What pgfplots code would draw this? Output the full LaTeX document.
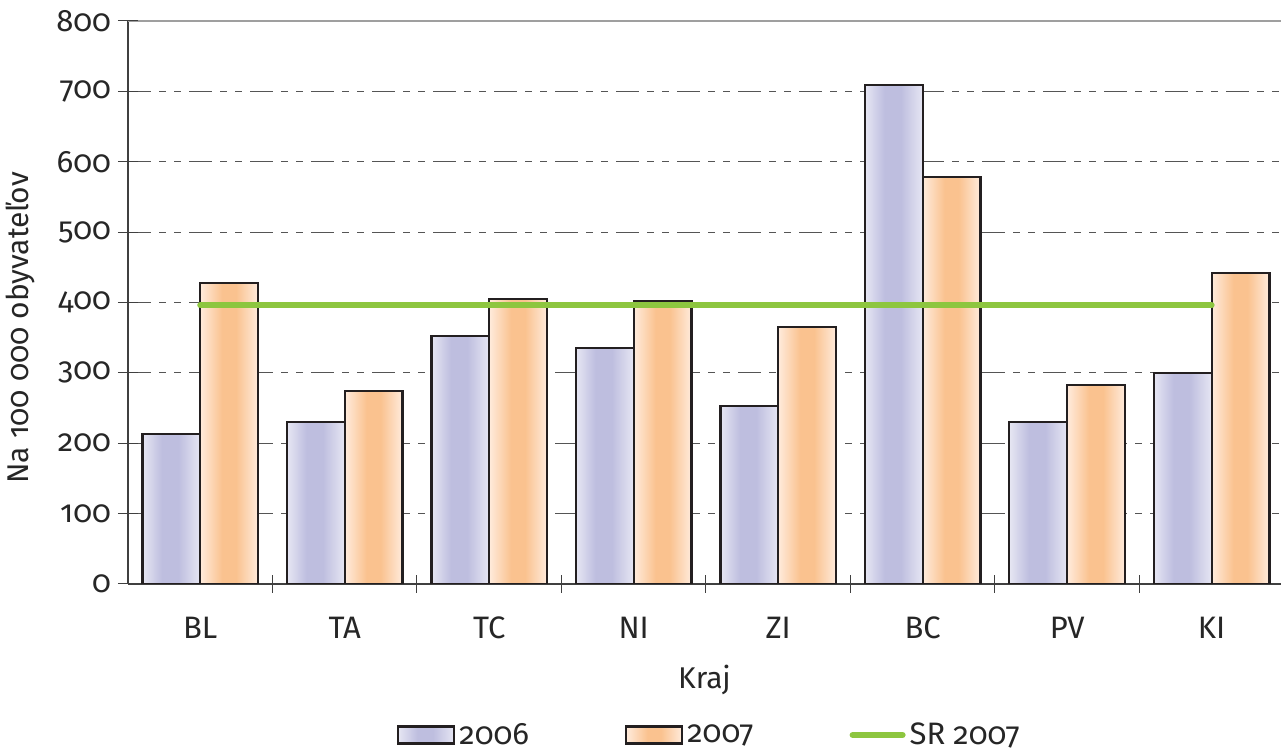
\documentclass[border=0pt]{standalone}
\usepackage{pgfplots}
\pgfplotsset{compat=1.18}
\usepackage{fontspec}
\setmainfont{Fira Sans}[Numbers=OldStyle]
\definecolor{bL}{HTML}{E6E6F3}
\definecolor{bD}{HTML}{BEBEDF}
\definecolor{oL}{HTML}{FFEBDC}
\definecolor{oD}{HTML}{FAC28F}
\definecolor{sr}{HTML}{8DC63F}
\definecolor{gridc}{HTML}{555555}
\definecolor{axc}{HTML}{404040}
\definecolor{barc}{HTML}{231F20}
\pgfdeclarehorizontalshading{sh06}{100bp}{color(0bp)=(bL); color(25bp)=(bL); color(42bp)=(bD); color(56bp)=(bD); color(75bp)=(bL); color(100bp)=(bL)}
\pgfdeclarehorizontalshading{sh07}{100bp}{color(0bp)=(oL); color(25bp)=(oL); color(44bp)=(oD); color(56bp)=(oD); color(75bp)=(oL); color(100bp)=(oL)}
\pgfplotsset{
  barlegend/.style={legend image code/.code={\draw[##1] (0pt,-4.25pt) rectangle (28pt,4.25pt);}},
  linelegend/.style={legend image code/.code={\draw[##1] (1.5pt,0pt) -- (26.5pt,0pt);}},
  b06/.style={ybar, bar width=0.4, bar shift=-0.2, draw=barc, line width=1.1pt, shading=sh06, barlegend},
  b07/.style={ybar, bar width=0.4, bar shift=0.2, draw=barc, line width=1.1pt, shading=sh07, barlegend},
}
\begin{document}
\begin{tikzpicture}
\begin{axis}[
  name=ax,
  scale only axis, width=576.5pt, height=281.5pt,
  xmin=-0.5, xmax=7.48, ymin=0, ymax=800,
  axis x line*=bottom, axis y line*=left,
  axis line style={draw=axc, line width=0.9pt, -},
  xtick={0,...,7}, xticklabels={BL,TA,TC,NI,ZI,BC,PV,KI},
  minor xtick={0.5,1.5,...,6.5},
  major x tick style={draw=none},
  minor x tick style={draw=axc, line width=0.5pt},
  minor tick length=9pt,
  ytick={0,100,...,700},
  extra y ticks={800},
  extra y tick style={grid=major, grid style={solid, draw=gray!75, line width=1pt}},
  major tick length=10pt,
  tick align=center,
  y tick style={draw=axc, line width=0.5pt},
  ymajorgrids,
  grid style={draw=gridc, line width=0.6pt, dash pattern=on 11.5pt off 4pt on 3.5pt off 4pt on 3.5pt off 4pt},
  /pgf/number format/assume math mode=true,
  tick label style={font=\fontsize{15.5}{18}\selectfont, text=black!85},
  xticklabel style={yshift=-8pt},
  xlabel={Kraj},
  ylabel={Na 100 000 obyvateľov},
  every axis x label/.style={at={(axis description cs:0.5,-0.1705)}, anchor=center,
    font=\fontsize{15}{18}\selectfont, text=black!85},
  every axis y label/.style={at={(axis description cs:-0.0937,0.455)}, anchor=center, rotate=90,
    font=\fontsize{15}{18}\selectfont, text=black!85},
  legend style={draw=none, fill=none, legend columns=3,
    at={(axis description cs:0.5,0)}, anchor=center, yshift=-75.5pt, xshift=3pt,
    font=\fontsize{15.5}{18}\selectfont, text=black!85,
    /tikz/every even column/.append style={column sep=46pt}},
  legend cell align=left,
]
% 2006 and 2007 first bars carry the legend
\addplot[b06] coordinates {(0,213)};
\addlegendentry{2006}
\addplot[b07] coordinates {(0,428)};
\addlegendentry{2007}
\addplot[b06, forget plot] coordinates {(1,230)};
\addplot[b06, forget plot] coordinates {(2,352)};
\addplot[b06, forget plot] coordinates {(3,335)};
\addplot[b06, forget plot] coordinates {(4,253)};
\addplot[b06, forget plot] coordinates {(5,709)};
\addplot[b06, forget plot] coordinates {(6,230)};
\addplot[b06, forget plot] coordinates {(7,300)};
\addplot[b07, forget plot] coordinates {(1,274)};
\addplot[b07, forget plot] coordinates {(2,405)};
\addplot[b07, forget plot] coordinates {(3,402)};
\addplot[b07, forget plot] coordinates {(4,365)};
\addplot[b07, forget plot] coordinates {(5,578)};
\addplot[b07, forget plot] coordinates {(6,283)};
\addplot[b07, forget plot] coordinates {(7,442)};
\addplot[sr, line width=3pt, line cap=round, mark=none, linelegend]
  coordinates {(0,396) (7,396)};
\addlegendentry{SR 2007}
\end{axis}
\path (ax.south west) ++(-64pt,-83.5pt) coordinate (bbA);
\path (ax.north east) ++(0pt,10.5pt) coordinate (bbB);
\pgfresetboundingbox
\useasboundingbox (bbA) rectangle (bbB);
\end{tikzpicture}
\end{document}
